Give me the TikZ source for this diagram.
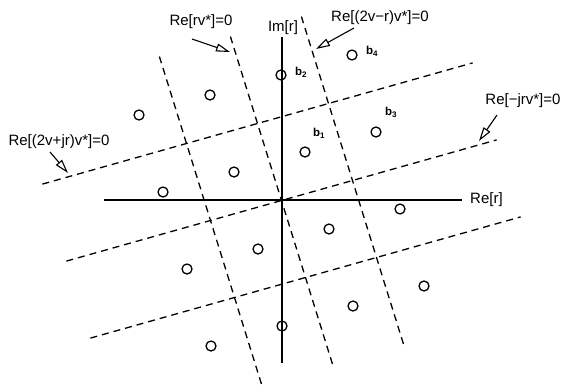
\documentclass[tikz,border=0pt]{standalone}
\usepackage{fontspec}
\setmainfont{Liberation Sans}
\usepackage{tikz}
\usetikzlibrary{arrows.meta,calc}

\begin{document}
\begin{tikzpicture}[x=1pt,y=-1pt,
    every node/.style={font=\fontsize{15}{18}\selectfont, inner sep=0pt},
    axis/.style={line width=1.5pt},
    bound/.style={line width=1.3pt, dash pattern=on 7pt off 5pt},
    symb/.style={circle, draw, line width=1.3pt, minimum size=10pt, inner sep=0pt},
    pointer/.style={line width=1.1pt, -{Triangle[open, length=14pt, width=8pt, line width=1.1pt]}},
    blabel/.style={font=\fontsize{11.5}{13}\selectfont\bfseries}]
  \useasboundingbox (0,0) rectangle (565,386);
  % Lattice
  \coordinate (O) at (281.5,200.5);
  \coordinate (u) at (71,-20);
  \coordinate (w) at (-24,-77);
  % Axes
  \coordinate (xl) at (104,200);
  \coordinate (xr) at (462,200);
  \coordinate (yt) at (282,37);
  \coordinate (yb) at (282,363);
  \draw[axis] (xl) -- (xr);
  \draw[axis] (yb) -- (yt);
  \node[anchor=west] (relbl) at (470,200) {Re[r]};
  \node (imlbl) at (283,28) {Im[r]};
  % Decision boundaries
  \foreach \k in {-1,0,1} {
    \draw[bound] ($(O)+\k*(u)+2.13*(w)$) -- ($(O)+\k*(u)-2.13*(w)$);
    \draw[bound] ($(O)+\k*(w)-3.03*(u)$) -- ($(O)+\k*(w)+3.03*(u)$);
  }
  % Symbols
  \foreach \i in {0,...,3}
    \foreach \j in {0,...,3}
      \node[symb] (s\i\j) at ($(O)+{\i-1.5}*(u)+{\j-1.5}*(w)$) {};
  \node[blabel] (b1) at (319,133) {b\textsubscript{1}};
  \node[blabel] (b2) at (301,72) {b\textsubscript{2}};
  \node[blabel] (b3) at (391,112) {b\textsubscript{3}};
  \node[blabel] (b4) at (372,51) {b\textsubscript{4}};
  % Boundary labels
  \node (lblA) at (201,22) {Re[rv*]=0};
  \node (lblB) at (380,18) {Re[(2v−r)v*]=0};
  \node (lblC) at (59,142) {Re[(2v+jr)v*]=0};
  \node (lblD) at (523,101) {Re[−jrv*]=0};
  \coordinate (tA) at (192,39);
  \coordinate (hA) at (230,52);
  \coordinate (tB) at (354,28);
  \coordinate (hB) at (316,49);
  \coordinate (tC) at (50,152);
  \coordinate (hC) at (68,173);
  \coordinate (tD) at (497,115);
  \coordinate (hD) at (479,141);
  \draw[pointer] (tA) -- (hA);
  \draw[pointer] (tB) -- (hB);
  \draw[pointer] (tC) -- (hC);
  \draw[pointer] (tD) -- (hD);
\end{tikzpicture}
\end{document}
